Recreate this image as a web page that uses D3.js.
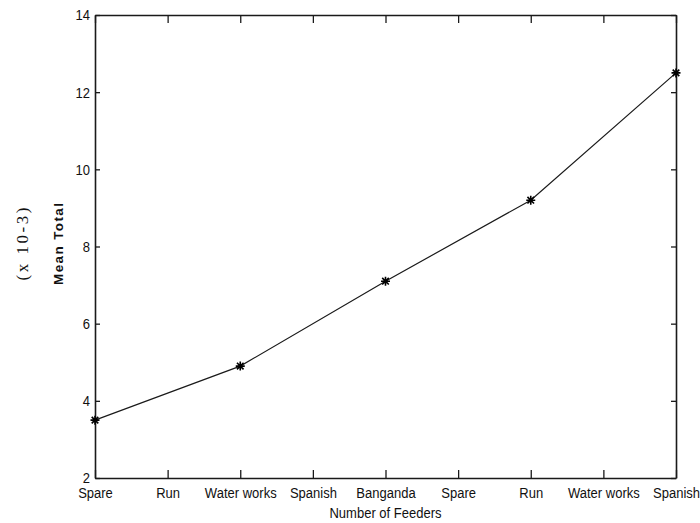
<!DOCTYPE html>
<html><head><meta charset="utf-8">
<script src="https://cdn.jsdelivr.net/npm/d3@7"></script>
<style>
html,body{margin:0;padding:0;background:#fff;}
svg{display:block;}
.lab{font-family:"Liberation Sans",Arial,sans-serif;fill:#111;}
</style></head>
<body>
<svg id="chart" width="700" height="523"></svg>
<script>
const xLabels = ["Spare","Run","Water works","Spanish","Banganda","Spare","Run","Water works","Spanish"];
const meanTotal = [3.5, null, 4.9, null, 7.1, null, 9.2, null, 12.5];
const yTicks = [2,4,6,8,10,12,14];
const xTitle = "Number of Feeders";
const yTitle = "Mean Total";
const yScaleNote = "(x 10-3)";

const svg = d3.select("#chart");
const L = 95, R = 676, T = 15, B = 478;
const x = d3.scalePoint().domain(d3.range(xLabels.length)).range([L, R]);
const y = d3.scaleLinear().domain([2, 14]).range([B, T]);
const ink = "#1a1a1a";
const SX = 0.84;
function narrow(sel) {
  sel.each(function() {
    const t = d3.select(this);
    const tx = +(t.attr("x") || 0);
    t.attr("transform", `translate(${tx},0) scale(${SX},1) translate(${-tx},0)`);
  });
}

// axes
const ax = svg.append("g");
const fmtX = i => xLabels[i];
ax.append("g").attr("transform", `translate(0,${B})`)
  .call(d3.axisBottom(x).tickSizeInner(-8).tickSizeOuter(0).tickPadding(9).tickFormat(fmtX));
ax.append("g").attr("transform", `translate(0,${T})`)
  .call(d3.axisTop(x).tickSizeInner(-8).tickSizeOuter(0).tickFormat(""));
ax.append("g").attr("transform", `translate(${L},0)`)
  .call(d3.axisLeft(y).tickValues(yTicks).tickSizeInner(-5).tickSizeOuter(0).tickPadding(5).tickFormat(d3.format("d")));
ax.append("g").attr("transform", `translate(${R},0)`)
  .call(d3.axisRight(y).tickValues(yTicks).tickSizeInner(-5).tickSizeOuter(0).tickFormat(""));
ax.selectAll(".domain").attr("stroke", ink).attr("stroke-width", 1.6);
ax.selectAll(".tick line").attr("stroke", ink).attr("stroke-width", 1.3);
ax.selectAll(".tick text").attr("class", "lab").attr("font-size", 15.5).attr("fill", "#111").call(narrow);

// line + markers
const pts = meanTotal.map((v, i) => ({i, v})).filter(d => d.v !== null);
svg.append("path").datum(pts)
  .attr("fill", "none").attr("stroke", ink).attr("stroke-width", 1.2)
  .attr("d", d3.line().x(d => x(d.i)).y(d => y(d.v)));
const s = 4.5, s2 = 3.3;
const star = `M${-s},0L${s},0M0,${-s}L0,${s}M${-s2},${-s2}L${s2},${s2}M${-s2},${s2}L${s2},${-s2}`;
svg.append("g").selectAll("path").data(pts).join("path")
  .attr("transform", d => `translate(${x(d.i)},${y(d.v)})`)
  .attr("d", star).attr("stroke", "#000").attr("stroke-width", 1.6).attr("fill", "none");

// titles
svg.append("text").attr("class", "lab").attr("x", (L + R) / 2).attr("y", 518)
  .attr("text-anchor", "middle").attr("font-size", 15.5).text(xTitle).call(narrow);
svg.append("text").attr("transform", "translate(63,244) rotate(-90)")
  .attr("text-anchor", "middle").attr("font-family", "'Liberation Sans',Arial,sans-serif")
  .attr("font-weight", "bold").attr("font-size", 13.5).attr("fill", "#111")
  .attr("textLength", 82).attr("lengthAdjust", "spacing").text(yTitle);
svg.append("text").attr("transform", "translate(28,244) rotate(-90)")
  .attr("text-anchor", "middle").attr("font-family", "'Liberation Serif','Times New Roman',serif")
  .attr("font-size", 17).attr("fill", "#111")
  .attr("textLength", 73).attr("lengthAdjust", "spacing").text(yScaleNote);
</script>
</body></html>
